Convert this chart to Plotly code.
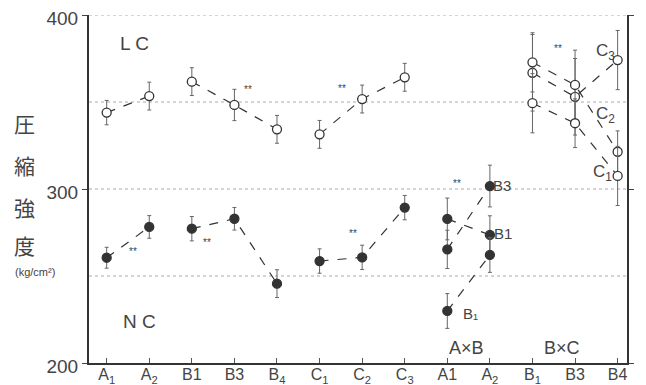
import plotly.graph_objects as go

# ---- data ----
tick_labels = ["A<sub>1</sub>", "A<sub>2</sub>", "B1", "B3", "B<sub>4</sub>", "C<sub>1</sub>", "C<sub>2</sub>", "C<sub>3</sub>",
               "A1", "A<sub>2</sub>", "B<sub>1</sub>", "B3", "B4"]
main_groups = [[0, 1], [2, 3, 4], [5, 6, 7]]          # A, B, C factor groups (tick indexes)
lc_values = [343.9, 353.4, 361.7, 348.3, 334.3, 331.4, 351.7, 364.2]
lc_err = [7, 8, 8, 9, 8, 8, 8, 8]
nc_values = [260.5, 278.2, 277.2, 282.9, 245.6, 258.6, 260.7, 289.3]
nc_err = [6, 6.5, 7, 6.5, 8, 7, 7, 7]

ab_x = [8, 9]
ab_series = {"B3": [265.3, 301.7], "B1": [282.8, 273.6], "B₁": [229.9, 262.1]}
ab_err = {"B3": [11, 12], "B1": [12, 11], "B₁": [10, 10]}
ab_label_pos = {"B3": (9.28, 302.3), "B1": (9.3, 274.7), "B₁": (8.55, 228.7)}

bc_x = [10, 11, 12]
bc_series = {"C3": [366.8, 353.0, 374.1], "C2": [372.8, 359.8, 321.4], "C1": [349.3, 337.8, 307.5]}
bc_err = {"C3": [22, 22, 17], "C2": [17, 20, 12], "C1": [17, 14, 17]}
bc_label_pos = {"C3": (11.72, 378.7), "C2": (11.72, 342.5), "C1": (11.65, 309.2)}

sig_marks = [(3.32, 356.9), (5.53, 357.5), (10.6, 381.0),
             (0.62, 263.8), (2.36, 269.0), (5.79, 274.7), (8.23, 302.9)]
grid_vals = [250, 300, 350, 400]
ytick_vals = [200, 300, 400]
title_chars = ["圧", "縮", "強", "度"]
title_char_y = [337.9, 313.8, 289.7, 267.8]

INK = "#333333"
ERR = "#666666"

fig = go.Figure()

def add_series(xs, ys, errs, filled):
    fig.add_trace(go.Scatter(
        x=xs, y=ys, mode="lines+markers",
        line=dict(color=INK, width=1.2, dash="dash"),
        marker=dict(size=9, symbol="circle",
                    color=INK if filled else "white",
                    line=dict(color=INK, width=1.3)),
        error_y=dict(type="data", array=errs, visible=True,
                     color=ERR, thickness=1, width=2),
        showlegend=False, hoverinfo="skip"))

for grp in main_groups:
    add_series(grp, [lc_values[i] for i in grp], [lc_err[i] for i in grp], False)
    add_series(grp, [nc_values[i] for i in grp], [nc_err[i] for i in grp], True)

for k, v in ab_series.items():
    add_series(ab_x, v, ab_err[k], True)
for k, v in bc_series.items():
    add_series(bc_x, v, bc_err[k], False)

# dotted reference lines
for g in grid_vals:
    fig.add_hline(y=g, line=dict(color="#aaaaaa", width=1, dash="dot"), layer="below")

TXT = dict(family="Liberation Sans, Arial, sans-serif", color="#444444")

def label(x, y, text, size, **kw):
    fig.add_annotation(x=x, y=y, text=text, showarrow=False,
                       font=dict(size=size, **TXT), **kw)

label(0.66, 383.9, "L C", 19)
label(0.78, 223.6, "N C", 19)
label(8.46, 208.6, "A×B", 18)
label(10.69, 208.6, "B×C", 18)
for k, (x, y) in ab_label_pos.items():
    label(x, y, k, 15)
for k, (x, y) in bc_label_pos.items():
    label(x, y, k[0] + "<sub>" + k[1] + "</sub>", 17)
for x, y in sig_marks:
    label(x, y, "**", 10)

for ch, yy in zip(title_chars, title_char_y):
    fig.add_annotation(xref="paper", yref="y", x=-0.119, y=yy, text=ch, showarrow=False,
                       xanchor="center", font=dict(size=21, family="Noto Sans CJK JP", color="#444444"))
fig.add_annotation(xref="paper", yref="y", x=-0.10, y=252.3, text="(kg/cm²)", showarrow=False,
                   xanchor="center", font=dict(size=11, **TXT))

# the page body has an 8px margin, so the figure is sized to fit the window after it
fig.update_layout(
    width=638, height=377,
    margin=dict(l=81, r=19, t=7, b=22),
    paper_bgcolor="white", plot_bgcolor="white",
    xaxis=dict(range=[-0.415, 12.22], tickvals=list(range(len(tick_labels))), ticktext=tick_labels,
               showgrid=False, zeroline=False, showline=True, linecolor="#333333", linewidth=2,
               ticks="inside", ticklen=5, tickcolor="#555555", automargin=False,
               ticklabeloverflow="allow", ticklabelstandoff=-4,
               tickfont=dict(size=16, **TXT), mirror=False),
    yaxis=dict(range=[200, 400], tickvals=ytick_vals, showgrid=False, zeroline=False,
               showline=True, linecolor="#333333", linewidth=2, mirror="ticks",
               ticks="outside", ticklen=5, tickcolor="#444444", automargin=False,
               ticklabeloverflow="allow", ticklabelshift=3,
               tickfont=dict(size=19, **TXT)),
)

fig.write_html("out.html")
